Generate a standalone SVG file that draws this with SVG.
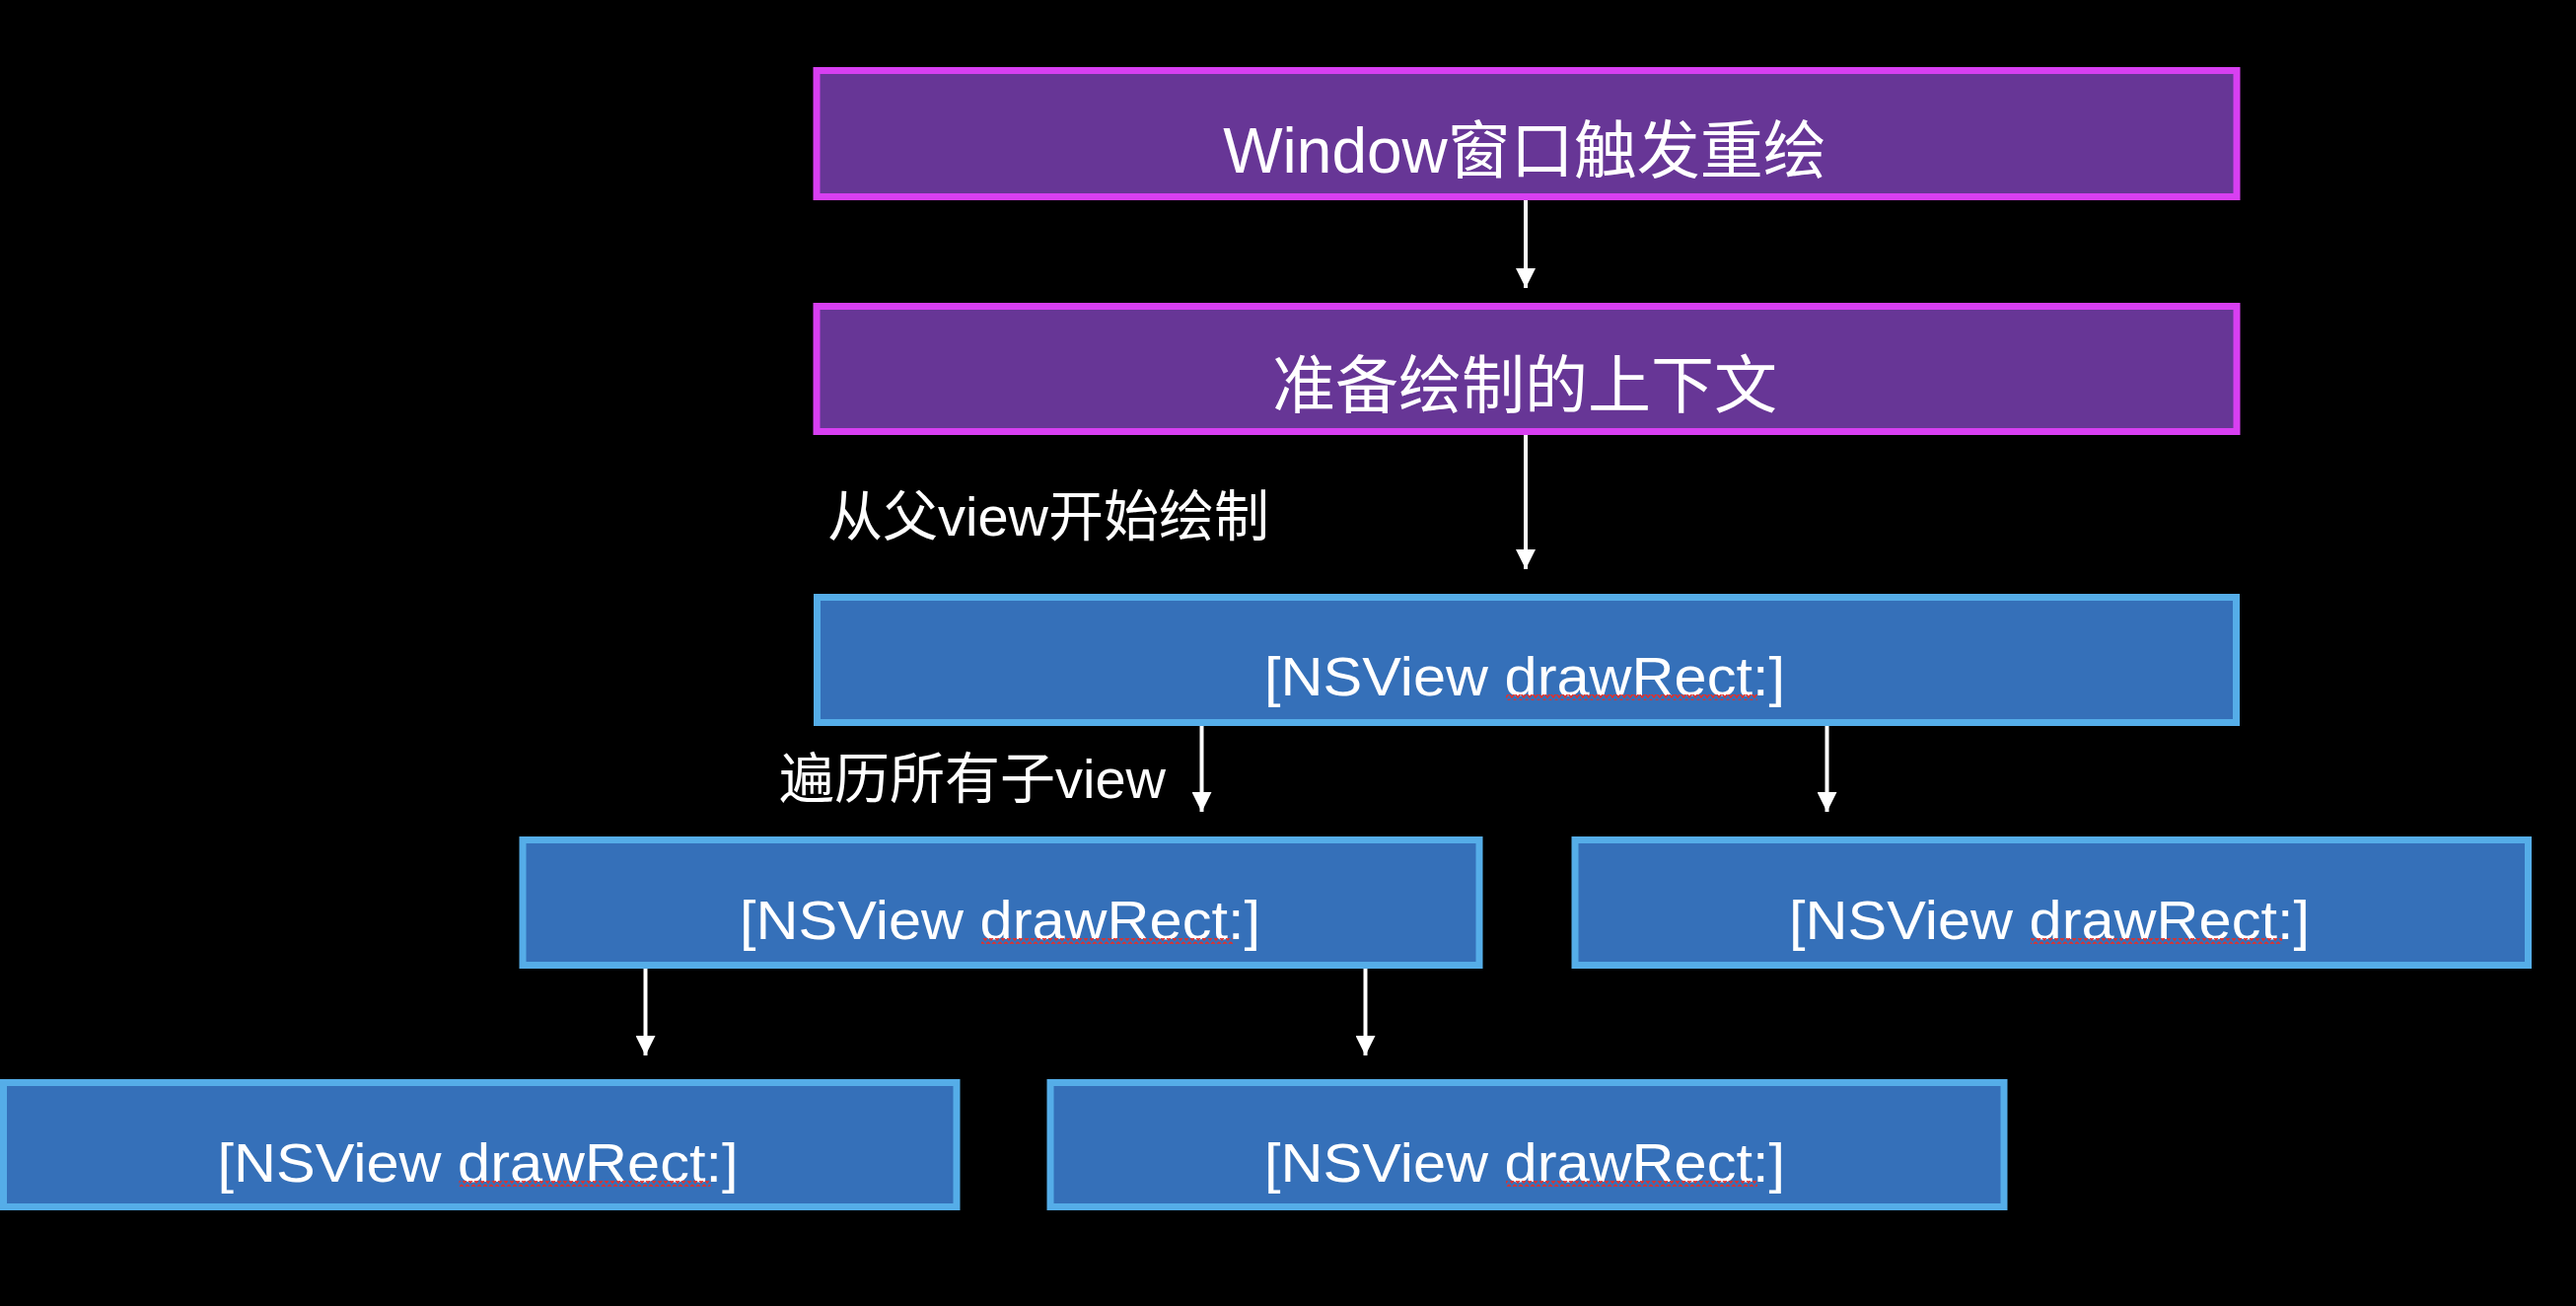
<svg xmlns="http://www.w3.org/2000/svg" width="2612" height="1324" viewBox="0 0 2612 1324">
  <style>
    .purple { fill: #673696; stroke: #D83FF2; stroke-width: 7; }
    .blue { fill: #3570B9; stroke: #55ADE8; stroke-width: 7; }
    .t { fill: #FFFFFF; font-family: "Liberation Sans", "Noto Sans CJK SC", sans-serif; }
    .big { font-size: 64px; }
    .mid { font-size: 56px; }
    .conn { stroke: #FFFFFF; stroke-width: 4; fill: none; marker-end: url(#arrow); }
  </style>
  <defs>
    <marker id="arrow" markerUnits="userSpaceOnUse" markerWidth="20" markerHeight="20" viewBox="0 0 20 20" refX="20" refY="10" orient="auto">
      <path d="M0,0 L20,10 L0,20 Z" fill="#FFFFFF"/>
    </marker>
    <pattern id="sq" patternUnits="userSpaceOnUse" width="6" height="6">
      <path d="M0,1 L3,5 L6,1" stroke="#E0302C" stroke-width="1.6" fill="none"/>
    </pattern>
  </defs>
  <rect x="0" y="0" width="2612" height="1324" fill="#000000"/>

  <g id="connectors">
    <line class="conn" x1="1547" y1="203" x2="1547" y2="292"/>
    <line class="conn" x1="1547" y1="441" x2="1547" y2="577"/>
    <line class="conn" x1="1218.5" y1="736" x2="1218.5" y2="823"/>
    <line class="conn" x1="1852.5" y1="736" x2="1852.5" y2="823"/>
    <line class="conn" x1="654.5" y1="982" x2="654.5" y2="1070"/>
    <line class="conn" x1="1384.5" y1="982" x2="1384.5" y2="1070"/>
  </g>

  <g id="label-parent">
    <text class="t mid" x="839" y="543">从父view开始绘制</text>
  </g>
  <g id="label-children">
    <text class="t mid" x="790" y="809">遍历所有子view</text>
  </g>

  <g id="node-window">
    <rect class="purple" x="828" y="71.5" width="1440" height="128"/>
    <text class="t big" x="1546" y="175" text-anchor="middle">Window窗口触发重绘</text>
  </g>
  <g id="node-context">
    <rect class="purple" x="828" y="310.5" width="1440" height="127"/>
    <text class="t big" x="1546" y="413" text-anchor="middle">准备绘制的上下文</text>
  </g>
  <g id="node-root">
    <rect class="blue" x="828.5" y="605.5" width="1439" height="127"/>
    <text class="t mid" x="1282" y="705" textLength="528" lengthAdjust="spacingAndGlyphs">[NSView drawRect:]</text>
    <rect x="1527" y="704" width="255" height="6" fill="url(#sq)"/>
  </g>
  <g id="node-child1">
    <rect class="blue" x="530" y="851.5" width="970" height="127"/>
    <text class="t mid" x="750" y="952" textLength="528" lengthAdjust="spacingAndGlyphs">[NSView drawRect:]</text>
    <rect x="995" y="951" width="255" height="6" fill="url(#sq)"/>
  </g>
  <g id="node-child2">
    <rect class="blue" x="1597" y="851.5" width="966.5" height="127"/>
    <text class="t mid" x="1814" y="952" textLength="528" lengthAdjust="spacingAndGlyphs">[NSView drawRect:]</text>
    <rect x="2059" y="951" width="255" height="6" fill="url(#sq)"/>
  </g>
  <g id="node-grandchild1">
    <rect class="blue" x="3.5" y="1097.5" width="966.5" height="126"/>
    <text class="t mid" x="220.5" y="1198" textLength="528" lengthAdjust="spacingAndGlyphs">[NSView drawRect:]</text>
    <rect x="465.5" y="1197" width="255" height="6" fill="url(#sq)"/>
  </g>
  <g id="node-grandchild2">
    <rect class="blue" x="1065" y="1097.5" width="967" height="126"/>
    <text class="t mid" x="1282" y="1198" textLength="528" lengthAdjust="spacingAndGlyphs">[NSView drawRect:]</text>
    <rect x="1527" y="1197" width="255" height="6" fill="url(#sq)"/>
  </g>
</svg>
